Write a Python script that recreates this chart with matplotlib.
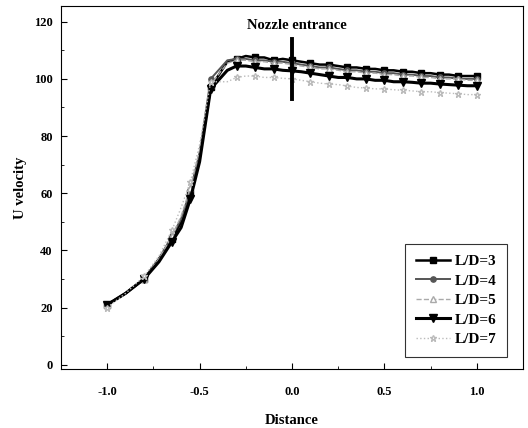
import matplotlib
matplotlib.use("Agg")
import matplotlib.pyplot as plt
from matplotlib.ticker import MultipleLocator

distance = [-1.0, -0.9, -0.8, -0.72, -0.65, -0.6, -0.55, -0.5, -0.44,
            -0.35, -0.30, -0.25, -0.20, -0.15, -0.10, -0.05, 0.0,
            0.05, 0.10, 0.15, 0.20, 0.25, 0.30, 0.35, 0.40, 0.45, 0.50,
            0.55, 0.60, 0.65, 0.70, 0.75, 0.80, 0.85, 0.90, 0.95, 1.0]

ld3 = [21, 25, 30, 37, 44, 50, 60, 73, 97,
       106, 107, 108, 107.5, 107.5, 106.5, 107, 106.5,
       106, 105.5, 105, 105, 104.5, 104, 104, 103.5, 103.5, 103,
       103, 102.5, 102.5, 102, 102, 101.5, 101.5, 101, 101, 101]
ld4 = [21, 25, 30, 37, 45, 51, 61, 74, 100,
       106.5, 107, 107, 106.5, 106.5, 106, 106, 105.5,
       105, 104.5, 104, 104, 103.5, 103, 103, 102.5, 102.5, 102,
       102, 101.5, 101.5, 101, 101, 100.5, 100.5, 100, 100, 100]
ld5 = [21, 25, 30, 37, 45, 52, 62, 75, 98,
       105.5, 106.5, 106.5, 106, 106, 105.5, 105.5, 105,
       104.5, 104, 103.5, 103.5, 103, 102.5, 102.5, 102, 102, 101.5,
       101.5, 101, 101, 100.5, 100.5, 100, 100, 100, 99.5, 99.5]
ld6 = [21, 25, 30, 36, 43, 48, 58, 71, 96.5,
       103, 104.5, 104.5, 104, 103.5, 103.5, 103, 102.8,
       102.5, 102, 101.5, 101, 100.5, 100.5, 100, 100, 99.5, 99.5,
       99, 99, 98.8, 98.5, 98.5, 98.2, 98, 97.8, 97.6, 97.6]
ld7 = [20, 25, 31, 38, 47, 55, 64, 77, 99,
       99, 100.5, 101, 101, 100.5, 100.5, 100.2, 100,
       99.5, 99, 98.5, 98.2, 98, 97.5, 97, 96.8, 96.5, 96.5,
       96.2, 96, 95.8, 95.5, 95.5, 95.2, 95, 94.8, 94.5, 94.5]

labels = ["L/D=3", "L/D=4", "L/D=5", "L/D=6", "L/D=7"]
series = [ld3, ld4, ld5, ld6, ld7]
nozzle_x = [0.0, 0.0]
nozzle_y = [93, 114]

plt.rcParams['font.family'] = ['Liberation Serif', 'DejaVu Serif']
plt.rcParams['font.weight'] = 'bold'

fig = plt.figure(figsize=(5.28, 4.28), dpi=100)
ax = fig.add_axes([61/528, 59/428, 462/528, 363/428])

styles = [
    dict(color='black', marker='s', lw=1.8, ms=3.8, mfc='black', ls='-'),
    dict(color='#555555', marker='o', lw=1.4, ms=3.8, mfc='#555555', ls='-'),
    dict(color='#aaaaaa', marker='^', lw=1.0, ms=4.2, mfc='white', ls='--'),
    dict(color='black', marker='v', lw=2.2, ms=5.5, mfc='black', ls='-'),
    dict(color='#bbbbbb', marker='*', lw=1.0, ms=4.5, mfc='white', ls=':'),
]
for y, lab, st in zip(series, labels, styles):
    ax.plot(distance, y, label=lab, markevery=2, **st)

ax.plot(nozzle_x, nozzle_y, color='black', lw=2.8, ls='-')
ax.text(0.025, 117.3, "Nozzle entrance", ha='center', va='baseline',
        fontsize=10.5, fontweight='bold')

ax.set_xlim(-1.25, 1.25)
ax.set_ylim(-1.5, 125.5)
ax.xaxis.set_major_locator(MultipleLocator(0.5))
ax.xaxis.set_minor_locator(MultipleLocator(0.25))
ax.yaxis.set_major_locator(MultipleLocator(20))
ax.yaxis.set_minor_locator(MultipleLocator(10))
ax.xaxis.set_major_formatter(plt.FuncFormatter(lambda v, p: f"{v:.1f}"))
ax.tick_params(direction='in', which='major', length=4, width=0.8, labelsize=9)
ax.tick_params(direction='in', which='minor', length=2, width=0.6)
ax.tick_params(axis='x', pad=12)
ax.tick_params(axis='y', pad=6)
for t in ax.get_xticklabels() + ax.get_yticklabels():
    t.set_fontweight('bold')

ax.set_xlabel("Distance", fontsize=10.5, fontweight='bold', labelpad=12)
ax.set_ylabel("U velocity", fontsize=10.5, fontweight='bold', labelpad=5)

leg = ax.legend(loc='lower right', bbox_to_anchor=(0.965, 0.033), borderaxespad=0,
                frameon=True, fancybox=False, edgecolor='black',
                handlelength=2.2, handletextpad=0.3, labelspacing=0.38,
                borderpad=0.7, prop={'weight': 'bold', 'size': 11})
leg.get_frame().set_linewidth(0.8)

fig.savefig("out.png", dpi=100)
